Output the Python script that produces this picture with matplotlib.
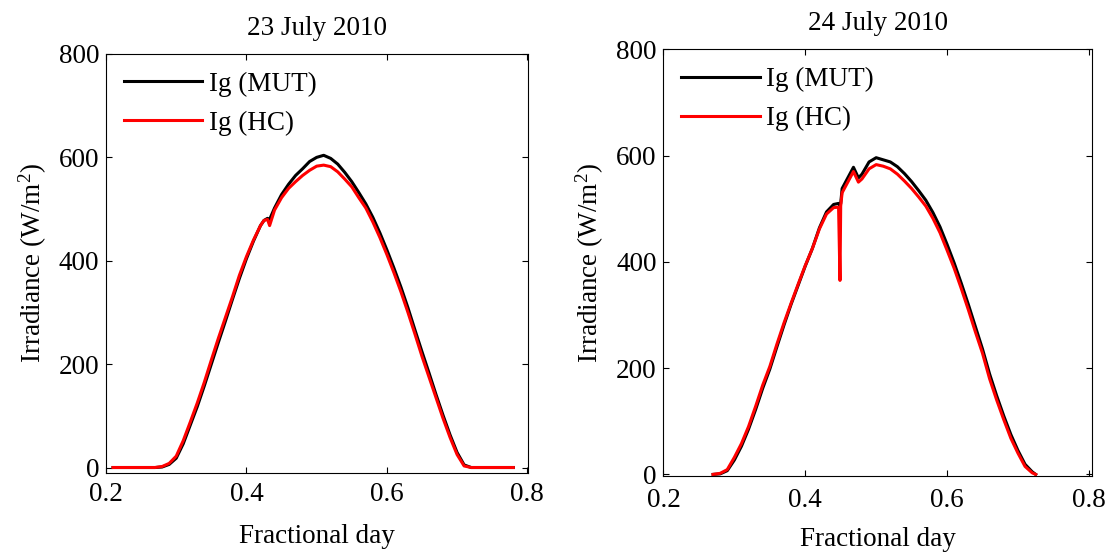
import numpy as np
import matplotlib
matplotlib.use("Agg")
import matplotlib.pyplot as plt

plt.rcParams['font.family'] = ['Liberation Serif', 'DejaVu Serif']
plt.rcParams['font.size'] = 19.5
plt.rcParams['mathtext.fontset'] = 'custom'
plt.rcParams['mathtext.rm'] = 'Liberation Serif'
plt.rcParams['mathtext.it'] = 'Liberation Serif:italic'

# =========================
# DATA
# =========================
x23 = [0.21, 0.23, 0.25, 0.27, 0.28, 0.29, 0.30, 0.31, 0.32, 0.33, 0.34, 0.35,
       0.36, 0.37, 0.38, 0.39, 0.40, 0.41, 0.42, 0.425, 0.43, 0.433, 0.44, 0.45,
       0.46, 0.47, 0.48, 0.49, 0.50, 0.51, 0.52, 0.53, 0.54, 0.55, 0.56, 0.57,
       0.58, 0.59, 0.60, 0.61, 0.62, 0.63, 0.64, 0.65, 0.66, 0.67, 0.68, 0.69,
       0.70, 0.71, 0.72, 0.74, 0.76, 0.78]
mut23 = [0, 0, 0, 0, 1, 6, 18, 46, 82, 118, 158, 200,
         242, 283, 325, 366, 404, 438, 468, 478, 482, 480, 502, 528,
         548, 565, 578, 592, 600, 604, 598, 587, 571, 553, 532, 510,
         484, 454, 421, 386, 349, 309, 266, 224, 183, 141, 101, 63,
         29, 5, 0, 0, 0, 0]
hc23 = [0, 0, 0, 0, 2, 8, 22, 52, 88, 125, 165, 208,
        250, 290, 330, 372, 408, 440, 468, 478, 480, 468, 498, 522,
        540, 553, 565, 575, 583, 585, 582, 572, 558, 543, 522, 502,
        475, 445, 412, 377, 340, 300, 258, 215, 175, 135, 95, 58,
        25, 3, 0, 0, 0, 0]

x24 = [0.27, 0.28, 0.29, 0.30, 0.31, 0.32, 0.33, 0.34, 0.35, 0.36, 0.37, 0.38,
       0.39, 0.40, 0.41, 0.42, 0.43, 0.44, 0.447, 0.449, 0.450, 0.452, 0.46, 0.468,
       0.475, 0.48, 0.49, 0.50, 0.51, 0.52, 0.53, 0.54, 0.55, 0.56, 0.57, 0.58,
       0.59, 0.60, 0.61, 0.62, 0.63, 0.64, 0.65, 0.66, 0.67, 0.68, 0.69, 0.70,
       0.71, 0.72, 0.725]
mut24 = [0, 1, 7, 27, 53, 85, 122, 162, 198, 240, 281, 320,
         356, 392, 425, 464, 494, 508, 510, 505, 510, 538, 558, 578,
         558, 565, 588, 596, 592, 588, 579, 566, 551, 534, 516, 493,
         466, 433, 398, 360, 320, 278, 236, 189, 148, 110, 75, 45,
         19, 5, 0]
hc24 = [0, 2, 9, 32, 58, 90, 128, 168, 203, 245, 285, 322,
        358, 393, 425, 462, 490, 502, 503, 365, 505, 530, 550, 570,
        550, 556, 575, 583, 580, 575, 565, 552, 538, 522, 505, 482,
        455, 422, 388, 350, 310, 268, 228, 180, 140, 103, 68, 40,
        15, 3, 0]

titles = ["23 July 2010", "24 July 2010"]
yticks = [0, 200, 400, 600, 800]
xticks = [0.2, 0.4, 0.6, 0.8]

# =========================
# FIGURE
# =========================
fig = plt.figure(figsize=(11.1, 5.52), dpi=100)
ax1 = fig.add_axes([0.0955, 0.1437, 0.3802, 0.7585])
ax2 = fig.add_axes([0.5977, 0.1377, 0.3858, 0.7730])

panels = [
    (ax1, x23, mut23, hc23, titles[0], (0.2, 0.801), (-10, 800), 7),
    (ax2, x24, mut24, hc24, titles[1], (0.2, 0.804), (-3, 800), 8.5),
]

for ax, x, mut, hc, title, xl, yl, xpad in panels:
    ax.plot(x, mut, color='black', linewidth=2.2, label='Ig (MUT)')
    ax.plot(x, hc, color='red', linewidth=2.2, label='Ig (HC)')
    ax.set_xlim(*xl)
    ax.set_ylim(*yl)
    ax.set_xticks(xticks)
    ax.set_yticks(yticks)
    ax.set_xticklabels(["0.2", "0.4", "0.6", "0.8"])
    ax.tick_params(axis='both', direction='in', top=True, right=True, length=4,
                   width=0.8, labelsize=19.5)
    ax.tick_params(axis='x', pad=xpad)
    ax.tick_params(axis='y', pad=5)
    for s in ax.spines.values():
        s.set_linewidth(0.8)
    ax.set_title(title, fontsize=19.5, pad=14)
    ax.set_xlabel('Fractional day', fontsize=19.5, labelpad=12 - (xpad - 7))
    ax.set_ylabel('Irradiance (W/m$^2$)', fontsize=19.5, labelpad=7)
    ax.legend(loc='upper left', frameon=False, fontsize=19.5, handlelength=2.9,
              handletextpad=0.25, labelspacing=0.52, borderaxespad=0.25)

fig.savefig('out.png', dpi=100)
